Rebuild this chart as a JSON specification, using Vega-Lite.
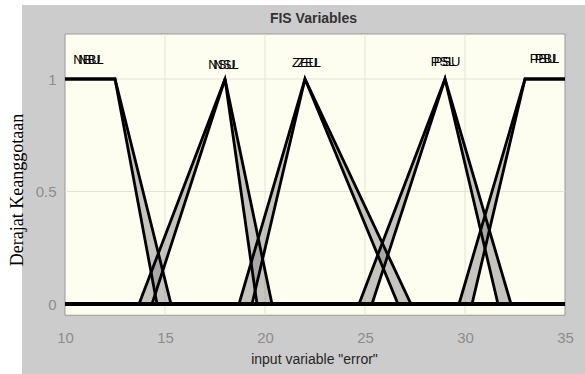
{
  "$schema": "https://vega.github.io/schema/vega-lite/v6.json",
  "width": 563,
  "height": 369,
  "autosize": {"type": "none"},
  "padding": {"left": 22, "top": 5, "right": 0, "bottom": 0},
  "background": "#ffffff",
  "config": {"view": {"fill": "#cccccc", "stroke": null}, "font": "Liberation Sans", "axis": {"grid": false, "domain": false, "ticks": false}},
  "title": {"text": "FIS Variables", "frame": "group", "anchor": "middle", "offset": -21, "dx": 10, "fontSize": 14, "fontWeight": "bold", "color": "#333333", "font": "Liberation Sans"},
  "datasets": {
    "mfs": [
      {"term": "NB", "bound": "upper", "x": 10, "mu": 1}, {"term": "NB", "bound": "upper", "x": 12.5, "mu": 1}, {"term": "NB", "bound": "upper", "x": 15.3, "mu": 0}, {"term": "NB", "bound": "upper", "x": 35, "mu": 0},
      {"term": "NB", "bound": "lower", "x": 10, "mu": 1}, {"term": "NB", "bound": "lower", "x": 12.5, "mu": 1}, {"term": "NB", "bound": "lower", "x": 14.6, "mu": 0}, {"term": "NB", "bound": "lower", "x": 35, "mu": 0},
      {"term": "NS", "bound": "upper", "x": 10, "mu": 0}, {"term": "NS", "bound": "upper", "x": 13.7, "mu": 0}, {"term": "NS", "bound": "upper", "x": 18, "mu": 1}, {"term": "NS", "bound": "upper", "x": 20.35, "mu": 0}, {"term": "NS", "bound": "upper", "x": 35, "mu": 0},
      {"term": "NS", "bound": "lower", "x": 10, "mu": 0}, {"term": "NS", "bound": "lower", "x": 14.35, "mu": 0}, {"term": "NS", "bound": "lower", "x": 18, "mu": 1}, {"term": "NS", "bound": "lower", "x": 19.6, "mu": 0}, {"term": "NS", "bound": "lower", "x": 35, "mu": 0},
      {"term": "ZE", "bound": "upper", "x": 10, "mu": 0}, {"term": "ZE", "bound": "upper", "x": 18.7, "mu": 0}, {"term": "ZE", "bound": "upper", "x": 22, "mu": 1}, {"term": "ZE", "bound": "upper", "x": 27.3, "mu": 0}, {"term": "ZE", "bound": "upper", "x": 35, "mu": 0},
      {"term": "ZE", "bound": "lower", "x": 10, "mu": 0}, {"term": "ZE", "bound": "lower", "x": 19.35, "mu": 0}, {"term": "ZE", "bound": "lower", "x": 22, "mu": 1}, {"term": "ZE", "bound": "lower", "x": 26.65, "mu": 0}, {"term": "ZE", "bound": "lower", "x": 35, "mu": 0},
      {"term": "PS", "bound": "upper", "x": 10, "mu": 0}, {"term": "PS", "bound": "upper", "x": 24.7, "mu": 0}, {"term": "PS", "bound": "upper", "x": 29, "mu": 1}, {"term": "PS", "bound": "upper", "x": 32.3, "mu": 0}, {"term": "PS", "bound": "upper", "x": 35, "mu": 0},
      {"term": "PS", "bound": "lower", "x": 10, "mu": 0}, {"term": "PS", "bound": "lower", "x": 25.35, "mu": 0}, {"term": "PS", "bound": "lower", "x": 29, "mu": 1}, {"term": "PS", "bound": "lower", "x": 31.65, "mu": 0}, {"term": "PS", "bound": "lower", "x": 35, "mu": 0},
      {"term": "PB", "bound": "upper", "x": 10, "mu": 0}, {"term": "PB", "bound": "upper", "x": 29.7, "mu": 0}, {"term": "PB", "bound": "upper", "x": 33, "mu": 1}, {"term": "PB", "bound": "upper", "x": 35, "mu": 1},
      {"term": "PB", "bound": "lower", "x": 10, "mu": 0}, {"term": "PB", "bound": "lower", "x": 30.35, "mu": 0}, {"term": "PB", "bound": "lower", "x": 33, "mu": 1}, {"term": "PB", "bound": "lower", "x": 35, "mu": 1}
    ],
    "bands": [
      {"band": "NB-R", "mu": 0, "xa": 14.6, "xb": 15.3}, {"band": "NB-R", "mu": 1, "xa": 12.5, "xb": 12.5},
      {"band": "NS-L", "mu": 0, "xa": 13.7, "xb": 14.35}, {"band": "NS-L", "mu": 1, "xa": 18, "xb": 18},
      {"band": "NS-R", "mu": 0, "xa": 19.6, "xb": 20.35}, {"band": "NS-R", "mu": 1, "xa": 18, "xb": 18},
      {"band": "ZE-L", "mu": 0, "xa": 18.7, "xb": 19.35}, {"band": "ZE-L", "mu": 1, "xa": 22, "xb": 22},
      {"band": "ZE-R", "mu": 0, "xa": 26.65, "xb": 27.3}, {"band": "ZE-R", "mu": 1, "xa": 22, "xb": 22},
      {"band": "PS-L", "mu": 0, "xa": 24.7, "xb": 25.35}, {"band": "PS-L", "mu": 1, "xa": 29, "xb": 29},
      {"band": "PS-R", "mu": 0, "xa": 31.65, "xb": 32.3}, {"band": "PS-R", "mu": 1, "xa": 29, "xb": 29},
      {"band": "PB-L", "mu": 0, "xa": 29.7, "xb": 30.35}, {"band": "PB-L", "mu": 1, "xa": 33, "xb": 33}
    ],
    "labels": [
      {"label": "NBU", "x": 11.1, "y": 1.084}, {"label": "NBL", "x": 11.3, "y": 1.084},
      {"label": "NSU", "x": 17.85, "y": 1.062}, {"label": "NSL", "x": 18.05, "y": 1.062},
      {"label": "ZEU", "x": 22.0, "y": 1.071}, {"label": "ZEL", "x": 22.2, "y": 1.071},
      {"label": "PSL", "x": 28.9, "y": 1.076}, {"label": "PSU", "x": 29.1, "y": 1.076},
      {"label": "PBU", "x": 33.9, "y": 1.089}, {"label": "PBL", "x": 34.1, "y": 1.089}
    ]
  },
  "layer": [
    {
      "data": {"values": [{}]},
      "mark": {"type": "rect", "fill": "#fefef0", "stroke": "#999999", "strokeWidth": 1},
      "encoding": {
        "x": {"datum": 10, "type": "quantitative", "scale": {"domain": [7.85, 36], "nice": false, "zero": false}},
        "x2": {"datum": 35},
        "y": {"datum": -0.05, "type": "quantitative", "scale": {"domain": [-0.3111, 1.3289], "nice": false, "zero": false}},
        "y2": {"datum": 1.2}
      }
    },
    {
      "data": {"values": [{"g": 15}, {"g": 20}, {"g": 25}, {"g": 30}]},
      "mark": {"type": "rule", "stroke": "#e2e2d8", "strokeWidth": 1},
      "encoding": {
        "x": {"field": "g", "type": "quantitative"},
        "y": {"datum": -0.05, "type": "quantitative"},
        "y2": {"datum": 1.2}
      }
    },
    {
      "data": {"values": [{"h": 0.5}, {"h": 1}]},
      "mark": {"type": "rule", "stroke": "#e2e2d8", "strokeWidth": 1},
      "encoding": {
        "y": {"field": "h", "type": "quantitative"},
        "x": {"datum": 10, "type": "quantitative"},
        "x2": {"datum": 35}
      }
    },
    {
      "data": {"name": "bands"},
      "mark": {"type": "area", "orient": "horizontal", "fill": "#8c8c8c", "fillOpacity": 0.5},
      "encoding": {
        "y": {"field": "mu", "type": "quantitative"},
        "x": {"field": "xa", "type": "quantitative"},
        "x2": {"field": "xb"},
        "detail": {"field": "band"}
      }
    },
    {
      "data": {"name": "mfs"},
      "mark": {"type": "line", "stroke": "#000000", "strokeWidth": 2.8},
      "encoding": {
        "x": {"field": "x", "type": "quantitative",
          "axis": {"values": [10, 15, 20, 25, 30, 35], "format": "d", "offset": -59, "domain": false, "ticks": false, "grid": false,
            "labelFontSize": 15, "labelColor": "#8c8c8c", "labelPadding": 15, "labelFont": "Liberation Sans",
            "title": "input variable \"error\"", "titleFont": "Liberation Sans", "titleFontSize": 14, "titleFontWeight": "normal", "titleColor": "#262626", "titlePadding": 7, "titleX": 292}},
        "y": {"field": "mu", "type": "quantitative",
          "axis": {"values": [0, 0.5, 1], "format": "~g", "offset": -43, "domain": false, "ticks": false, "grid": false,
            "labelFontSize": 15, "labelColor": "#8c8c8c", "labelPadding": 9, "labelFont": "Liberation Sans",
            "title": "Derajat Keanggotaan", "titleFont": "Liberation Serif", "titleFontSize": 18, "titleFontWeight": "normal", "titleColor": "#000000", "titlePadding": 9}},
        "detail": [{"field": "term"}, {"field": "bound"}]
      }
    },
    {
      "data": {"name": "labels"},
      "mark": {"type": "text", "fontSize": 13, "font": "Liberation Sans", "color": "#000000", "align": "center", "baseline": "middle"},
      "encoding": {
        "x": {"field": "x", "type": "quantitative"},
        "y": {"field": "y", "type": "quantitative"},
        "text": {"field": "label"}
      }
    }
  ]
}
